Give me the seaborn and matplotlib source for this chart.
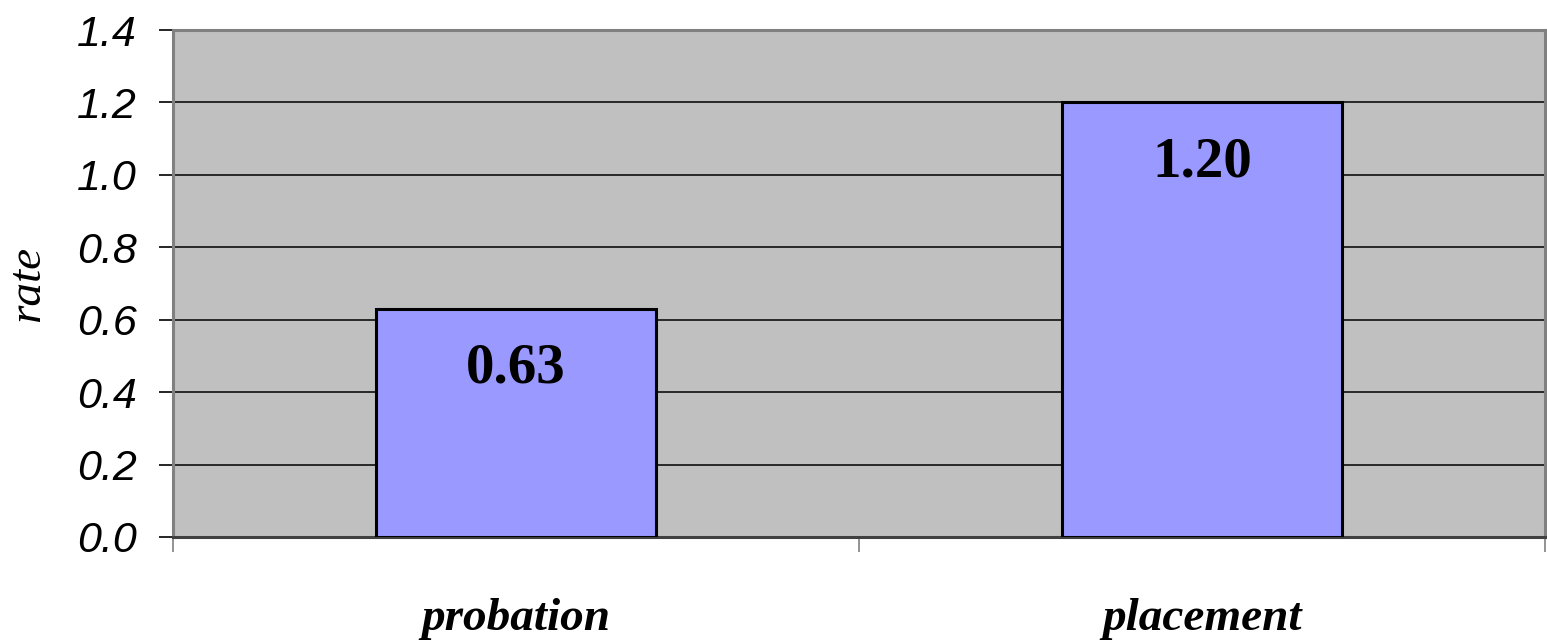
import matplotlib
matplotlib.use("Agg")
import matplotlib.pyplot as plt
import seaborn as sns
import pandas as pd

categories = ["probation", "placement"]
rates = [0.63, 1.20]
value_labels = ["0.63", "1.20"]
y_ticks = [0.0, 0.2, 0.4, 0.6, 0.8, 1.0, 1.2, 1.4]

df = pd.DataFrame({"group": categories, "rate": rates})

sns.set_theme(style="white")
plt.rcParams["font.family"] = ["Liberation Sans", "DejaVu Sans"]
plt.rcParams["text.color"] = "black"
plt.rcParams["xtick.color"] = "black"
plt.rcParams["ytick.color"] = "black"
plt.rcParams["axes.labelcolor"] = "black"

fig = plt.figure(figsize=(15.47, 6.40), dpi=100)
ax = fig.add_axes([173 / 1547, 1 - 537 / 640, (1545 - 173) / 1547, (537 - 30) / 640])
ax.set_facecolor("#C0C0C0")

sns.barplot(data=df, x="group", y="rate", color="#9999FF", saturation=1,
            width=0.407, edgecolor="black", linewidth=2.2, ax=ax, zorder=3)

ax.set_ylim(0, 1.4)
ax.set_xlim(-0.5, 1.5)
ax.set_yticks(y_ticks)
ax.set_yticklabels([f"{v:.1f}" for v in y_ticks], fontsize=31, fontstyle="italic",
                   family="Liberation Sans", color="black")
ax.yaxis.grid(True, color="black", linewidth=1.1, zorder=1)
ax.set_axisbelow(True)
ax.tick_params(axis="y", which="major", direction="out", length=10, width=1.2,
               color="black", labelcolor="black", pad=16, left=True)

# category labels centred in each band, boundary ticks between bands
ax.set_xticks([0, 1])
ax.set_xticklabels(categories, fontsize=34, fontweight="bold", fontstyle="italic",
                   family="Liberation Serif", color="black")
ax.tick_params(axis="x", which="major", length=0, pad=44, labelcolor="black")
ax.set_xticks([-0.5, 0.5, 1.5], minor=True)
ax.tick_params(axis="x", which="minor", direction="out", length=11, width=1.2,
               color="#808080", bottom=True)

ax.set_xlabel("")
ax.set_ylabel("rate", fontsize=34, fontstyle="italic", family="Liberation Serif",
              color="black", labelpad=20)

for side in ["top", "right", "left", "bottom"]:
    ax.spines[side].set_visible(True)
    ax.spines[side].set_color("#808080")
    ax.spines[side].set_linewidth(2.2)
ax.spines["bottom"].set_color("#404040")

for patch, lbl in zip(ax.patches, value_labels):
    cx = patch.get_x() + patch.get_width() / 2
    ax.annotate(lbl, (cx, patch.get_height()), xytext=(0, -43),
                textcoords="offset points", ha="center", va="center",
                fontsize=41, fontweight="bold", family="Liberation Serif",
                color="black", zorder=5)

fig.savefig("out.png", dpi=100)
